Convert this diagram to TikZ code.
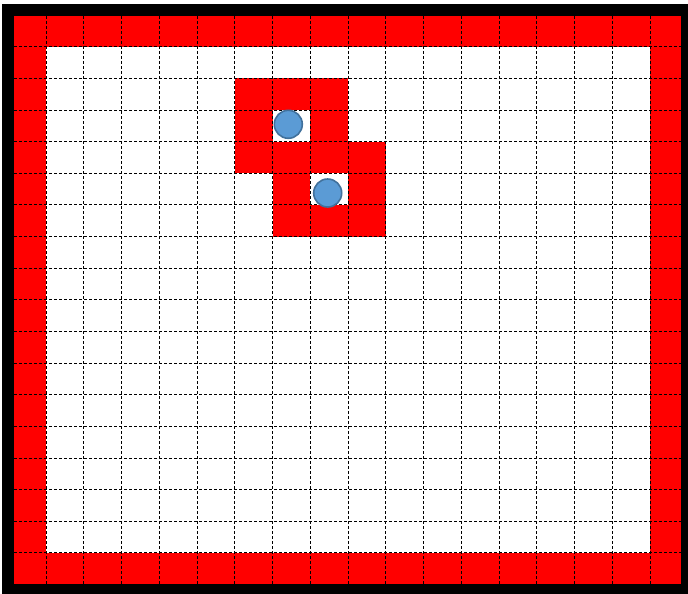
\documentclass[tikz,border=0pt]{standalone}
\definecolor{cellred}{HTML}{FF0000}
\definecolor{agentfill}{HTML}{5B9BD5}
\definecolor{agentline}{HTML}{41719C}
\tikzset{
  gridline/.style={black, line width=0.8pt, dash pattern=on 3pt off 2pt},
  agent/.style={circle, fill=agentfill, draw=agentline, line width=1.6pt, minimum size=28pt, inner sep=0pt},
}
\newcommand{\redcell}[2]{\fill[cellred] ({8.25+37.75*#1},{15.1+31.63*#2}) rectangle ({8.25+37.75*(#1+1)},{15.1+31.63*(#2+1)});}
\begin{document}
\begin{tikzpicture}[x=1pt,y=-1pt]
\useasboundingbox (0,0) rectangle (688,594);
\fill[black] (2,4) rectangle (688,594);
\fill[cellred] (14,16) rectangle (681,584.3);
\fill[white] (46,46.7) rectangle (650,553);
% obstacle cells
\foreach \c/\r in {6/2,7/2,8/2,6/3,8/3,6/4,7/4,8/4,9/4,7/5,9/5,7/6,8/6,9/6}{\redcell{\c}{\r}}
\begin{scope}
\clip (14,16) rectangle (681,584.3);
\foreach \k in {1,...,17}{
  \draw[gridline] ({8.25+37.75*\k},16) -- ({8.25+37.75*\k},584.3);
  \draw[gridline] (14,{15.1+31.63*\k}) -- (681,{15.1+31.63*\k});
}
\end{scope}
\node[agent] (a1) at (288.3,124.3) {};
\node[agent] (a2) at (327.7,193) {};
\end{tikzpicture}
\end{document}
